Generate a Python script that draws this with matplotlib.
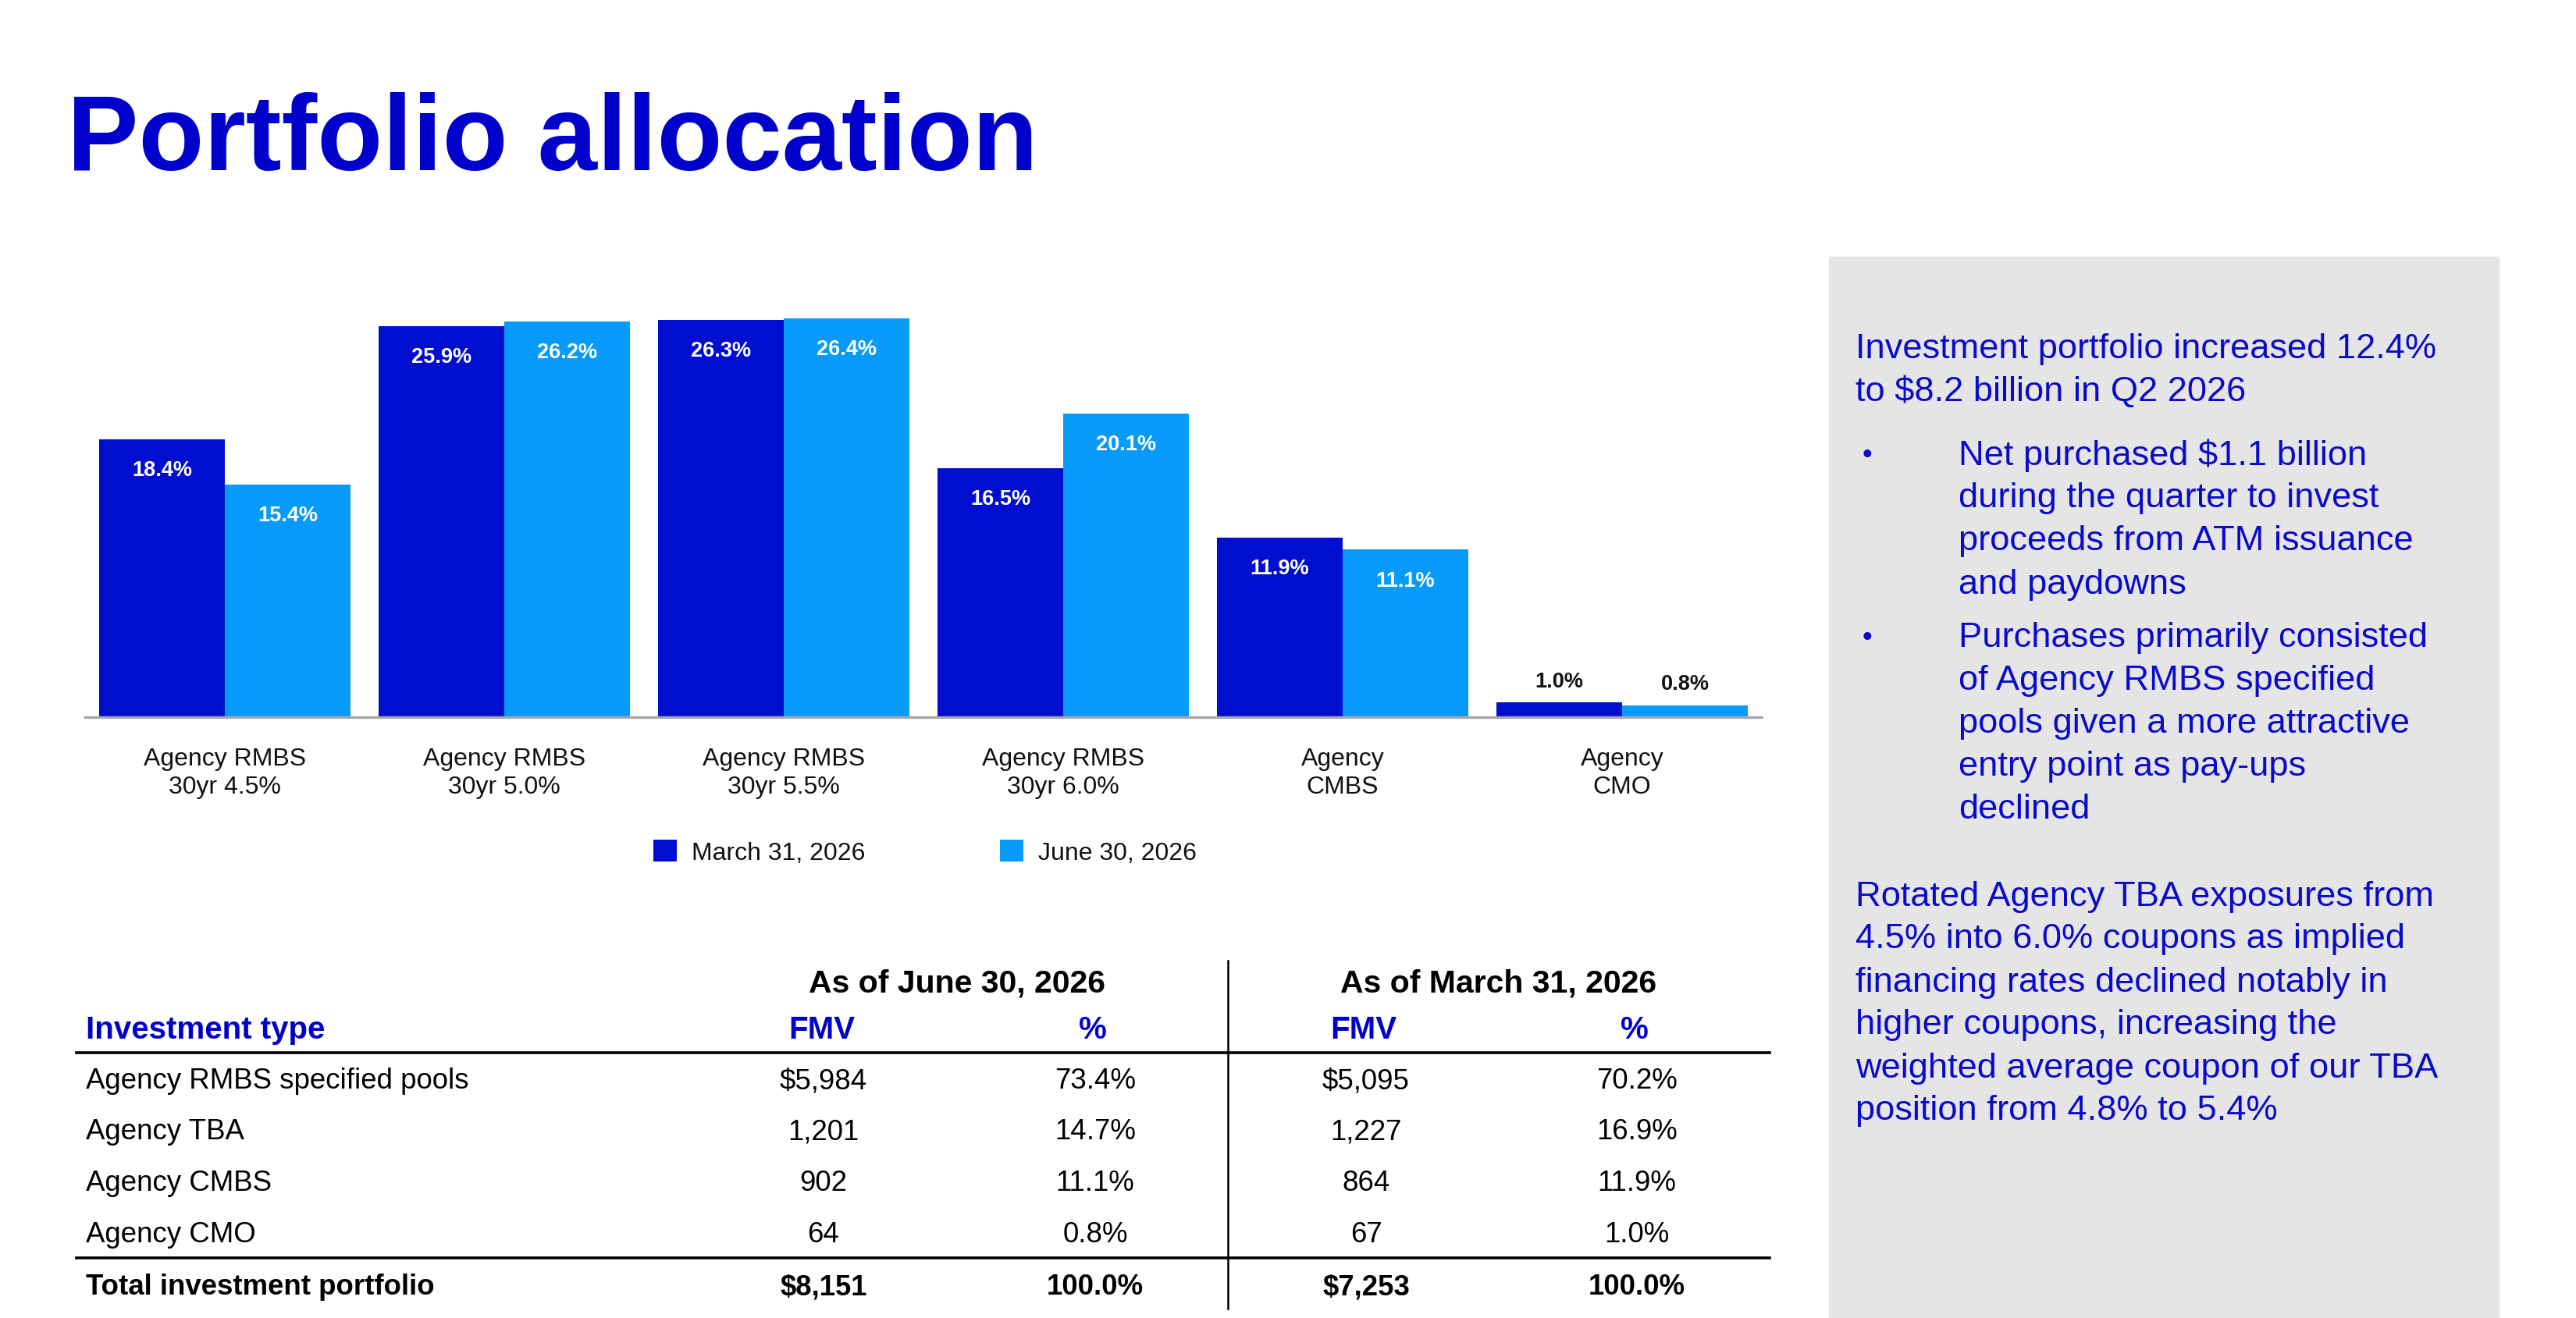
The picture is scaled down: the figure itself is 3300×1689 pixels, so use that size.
import matplotlib.pyplot as plt
import numpy as np
from matplotlib.lines import Line2D
from matplotlib.patches import Rectangle

plt.rcParams['font.family'] = ['Liberation Sans', 'DejaVu Sans']

W, H = 3300, 1690

# chart data
categories = ["Agency RMBS\n30yr 4.5%", "Agency RMBS\n30yr 5.0%", "Agency RMBS\n30yr 5.5%",
              "Agency RMBS\n30yr 6.0%", "Agency\nCMBS", "Agency\nCMO"]
march = [18.4, 25.9, 26.3, 16.5, 11.9, 1.0]
june = [15.4, 26.2, 26.4, 20.1, 11.1, 0.8]
series_names = ["March 31, 2026", "June 30, 2026"]

# table data
inv_types = ["Agency RMBS specified pools", "Agency TBA", "Agency CMBS", "Agency CMO"]
fmv_jun = [5984, 1201, 902, 64]
pct_jun = [73.4, 14.7, 11.1, 0.8]
fmv_mar = [5095, 1227, 864, 67]
pct_mar = [70.2, 16.9, 11.9, 1.0]
total_label = "Total investment portfolio"
total_jun = [8151, 100.0]
total_mar = [7253, 100.0]

# side panel text
para1 = ["Investment portfolio increased 12.4%", "to $8.2 billion in Q2 2026"]
bullet1 = ["Net purchased $1.1 billion", "during the quarter to invest",
           "proceeds from ATM issuance", "and paydowns"]
bullet2 = ["Purchases primarily consisted", "of Agency RMBS specified",
           "pools given a more attractive", "entry point as pay-ups", "declined"]
para3 = ["Rotated Agency TBA exposures from", "4.5% into 6.0% coupons as implied",
         "financing rates declined notably in", "higher coupons, increasing the",
         "weighted average coupon of our TBA", "position from 4.8% to 5.4%"]

DARK = "#000ECF"
LIGHT = "#069AFA"
BLUE = "#0000CC"
TXT = "#111111"


def fx(px):
    return px / W


def fy(py):
    return 1 - py / H


fig = plt.figure(figsize=(33, 16.9), dpi=100)

# title
fig.text(fx(86), fy(218), "Portfolio allocation", fontsize=98.8, fontweight="bold",
         color=BLUE, va="baseline", ha="left")

# grey side panel
fig.patches.append(Rectangle((fx(2343), 0), fx(3201) - fx(2343), fy(330),
                             transform=fig.transFigure, color="#E5E5E5", zorder=0))

# bar chart
ax = fig.add_axes([fx(109), fy(920), fx(2257) - fx(109), 30 * 19.36 / H])
x = np.arange(len(categories))
w = 0.45
b1 = ax.bar(x - w / 2, march, w, color=DARK, label=series_names[0])
b2 = ax.bar(x + w / 2, june, w, color=LIGHT, label=series_names[1])
ax.set_xlim(-0.5, len(categories) - 0.5)
ax.set_ylim(0, 30)
for bars, vals in ((b1, march), (b2, june)):
    for rect, v in zip(bars, vals):
        cx = rect.get_x() + rect.get_width() / 2
        if v > 3:
            ax.annotate(f"{v:.1f}%", (cx, v), xytext=(0, -28.5), textcoords="offset points",
                        ha="center", va="center", color="white", fontsize=19.5,
                        fontweight="bold")
        else:
            ax.annotate(f"{v:.1f}%", (cx, v), xytext=(0, 19.5), textcoords="offset points",
                        ha="center", va="center", color=TXT, fontsize=19.5,
                        fontweight="bold")

for s in ("top", "right", "left"):
    ax.spines[s].set_visible(False)
ax.spines["bottom"].set_color("#A6A6A6")
ax.spines["bottom"].set_linewidth(2.4)
ax.set_yticks([])
ax.set_xticks(x)
ax.set_xticklabels(categories, fontsize=23, color=TXT, linespacing=1.27)
ax.tick_params(axis="x", length=0, pad=27.5)
ax.patch.set_alpha(0)

fig.legend(handles=[b1, b2], loc="center left", bbox_to_anchor=(fx(837), fy(1093)),
           ncol=2, frameon=False, fontsize=23, handlelength=0.94, handleheight=0.94,
           handletextpad=0.6, columnspacing=5.4, borderpad=0, borderaxespad=0,
           labelcolor=TXT)

# table
c_fmv1, c_pct1, c_fmv2, c_pct2 = 1055, 1403, 1750, 2097
fig.text(fx(1226), fy(1260), "As of June 30, 2026", fontsize=29.5, fontweight="bold",
         ha="center", va="center", color="black")
fig.text(fx(1920), fy(1260), "As of March 31, 2026", fontsize=29.5, fontweight="bold",
         ha="center", va="center", color="black")
fig.text(fx(110), fy(1320), "Investment type", fontsize=29, fontweight="bold",
         ha="left", va="center", color=BLUE)
for cx, lab in ((1053, "FMV"), (1400, "%"), (1747, "FMV"), (2094, "%")):
    fig.text(fx(cx), fy(1320), lab, fontsize=29, fontweight="bold",
             ha="center", va="center", color=BLUE)

row_y = [1386, 1451, 1517, 1583]
for i, yy in enumerate(row_y):
    pre = "$" if i == 0 else ""
    fig.text(fx(110), fy(yy), inv_types[i], fontsize=26.4, ha="left", va="center", color="black")
    fig.text(fx(c_fmv1), fy(yy), f"{pre}{fmv_jun[i]:,}", fontsize=26.4, ha="center", va="center")
    fig.text(fx(c_pct1), fy(yy), f"{pct_jun[i]:.1f}%", fontsize=26.4, ha="center", va="center")
    fig.text(fx(c_fmv2), fy(yy), f"{pre}{fmv_mar[i]:,}", fontsize=26.4, ha="center", va="center")
    fig.text(fx(c_pct2), fy(yy), f"{pct_mar[i]:.1f}%", fontsize=26.4, ha="center", va="center")

ty = 1650
fig.text(fx(110), fy(ty), total_label, fontsize=26.4, fontweight="bold", ha="left", va="center")
fig.text(fx(c_fmv1), fy(ty), f"${total_jun[0]:,}", fontsize=26.4, fontweight="bold",
         ha="center", va="center")
fig.text(fx(c_pct1), fy(ty), f"{total_jun[1]:.1f}%", fontsize=26.4, fontweight="bold",
         ha="center", va="center")
fig.text(fx(c_fmv2), fy(ty), f"${total_mar[0]:,}", fontsize=26.4, fontweight="bold",
         ha="center", va="center")
fig.text(fx(c_pct2), fy(ty), f"{total_mar[1]:.1f}%", fontsize=26.4, fontweight="bold",
         ha="center", va="center")

for ly in (1350, 1613):
    fig.add_artist(Line2D([fx(98), fx(2267)], [fy(ly), fy(ly)], color="black", lw=2.6))
fig.add_artist(Line2D([fx(1573), fx(1573)], [fy(1232), fy(1678)], color="black", lw=1.8))

# side panel text
PFS = 32.6
PCOL = "#0A0ACC"
for yy, line in zip([447, 502], para1):
    fig.text(fx(2377), fy(yy), line, fontsize=PFS, color=PCOL, va="center", ha="left")
for ys, lines in (([584, 639, 694, 749], bullet1), ([818, 873, 928, 983, 1038], bullet2)):
    fig.text(fx(2392), fy(ys[0]), "\u2022", fontsize=PFS * 0.8, color=PCOL, va="center", ha="center")
    for yy, line in zip(ys, lines):
        fig.text(fx(2509), fy(yy), line, fontsize=PFS, color=PCOL, va="center", ha="left")
for yy, line in zip([1149, 1204, 1259, 1314, 1369, 1424], para3):
    fig.text(fx(2377), fy(yy), line, fontsize=PFS, color=PCOL, va="center", ha="left")

fig.savefig("out.png", dpi=100)
